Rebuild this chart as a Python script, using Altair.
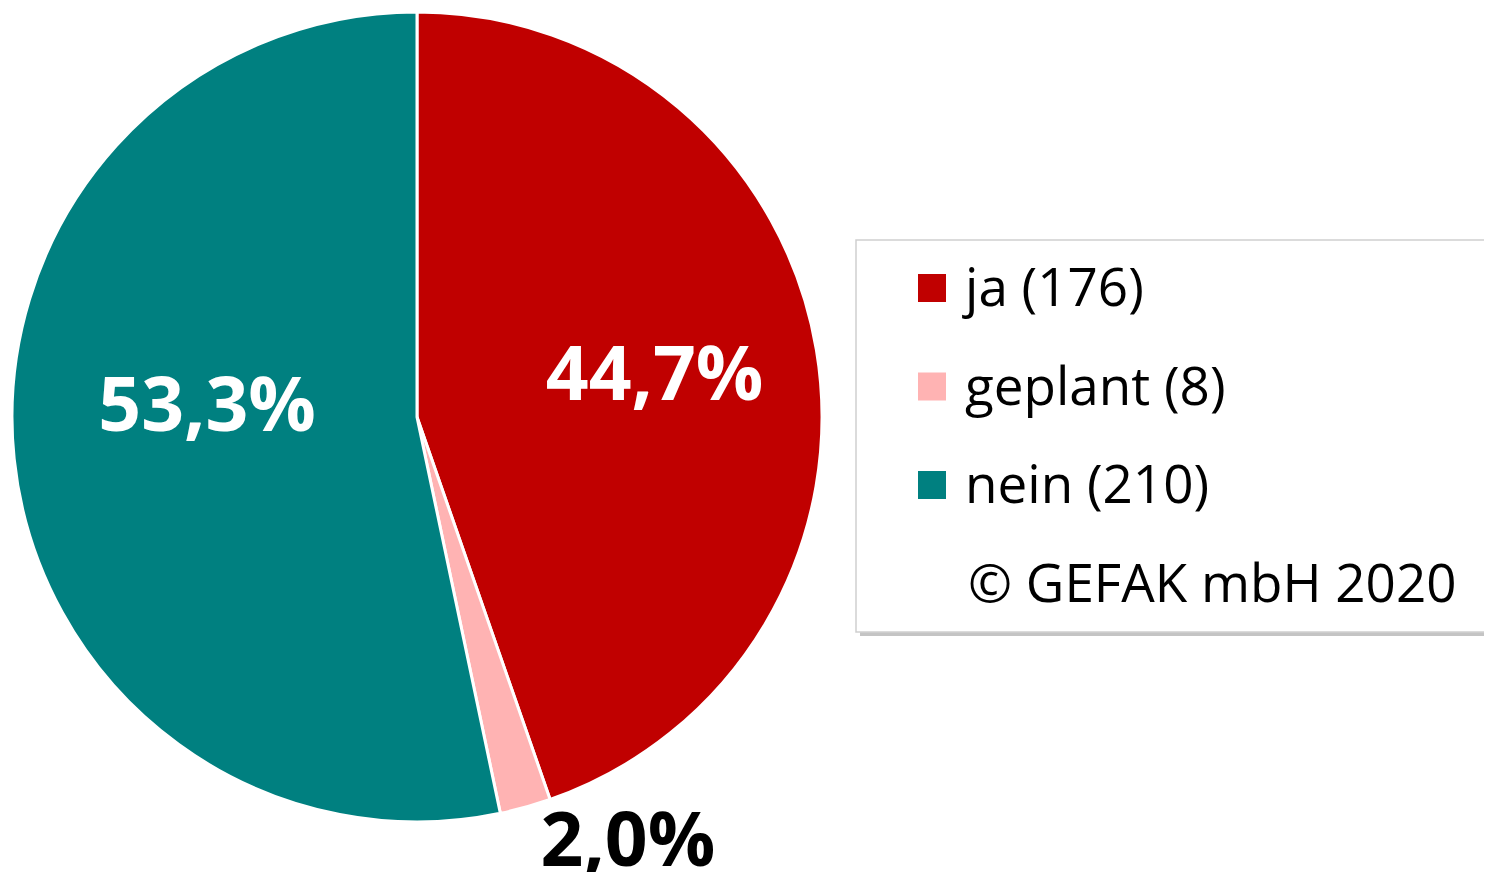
import altair as alt
import pandas as pd

categories = ["ja", "geplant", "nein"]
counts = [176, 8, 210]
pct_labels = ["44,7%", "2,0%", "53,3%"]
legend_labels = ["ja (176)", "geplant (8)", "nein (210)"]
colors = ["#C00000", "#FFB3B3", "#008080"]
copyright_text = "© GEFAK mbH 2020"

df = pd.DataFrame({
    "cat": categories,
    "value": counts,
    "pct": pct_labels,
    "legend": legend_labels,
    "idx": list(range(len(categories))),
})

W, H = 1476, 864
CX, CY = 409, 409
R = 405
FONT = "Open Sans"

base = alt.Chart(df)
color = alt.Color("cat:N", scale=alt.Scale(domain=categories, range=colors), legend=None)

pie = base.mark_arc(outerRadius=R, stroke="white", strokeWidth=3).encode(
    theta=alt.Theta("value:Q", stack=True),
    color=color,
    order=alt.Order("idx:Q"),
    x=alt.value(CX), y=alt.value(CY),
)

def label_layer(cat, radius, fill, dx=0, dy=0):
    return base.transform_calculate(
        lab=f"datum.cat == '{cat}' ? datum.pct : ''"
    ).mark_text(
        radius=radius, font=FONT, fontSize=75, fontWeight="bold", fill=fill,
        align="center", baseline="middle", dx=dx, dy=dy,
    ).encode(
        theta=alt.Theta("value:Q", stack=True),
        order=alt.Order("idx:Q"),
        text="lab:N",
        x=alt.value(CX), y=alt.value(CY),
    )

lab_ja = label_layer("ja", 241, "white")
lab_nein = label_layer("nein", 211, "white", dy=-31)
lab_geplant = label_layer("geplant", 470, "black", dx=85, dy=-27)

# legend box with shadow
shadow = alt.Chart(pd.DataFrame({"a": [0]})).mark_rect(color="#b5b5b5", opacity=0.8).encode(
    x=alt.value(852), x2=alt.value(1500), y=alt.value(236), y2=alt.value(628)
)
box = alt.Chart(pd.DataFrame({"a": [0]})).mark_rect(
    fill="white", stroke="#cfcfcf", strokeWidth=1.5
).encode(
    x=alt.value(848), x2=alt.value(1500), y=alt.value(232), y2=alt.value(624)
)

leg_y = alt.Y("cat:N", scale=alt.Scale(domain=categories, range=[280, 477], padding=0), axis=None)
leg_sq = base.mark_square(size=784, opacity=1).encode(
    x=alt.value(924), y=leg_y, color=color
)
leg_txt = base.mark_text(
    font=FONT, fontSize=53, align="left", baseline="middle", color="black", dy=2
).encode(
    x=alt.value(957), y=leg_y, text="legend:N"
)
copy_txt = alt.Chart(pd.DataFrame({"t": [copyright_text]})).mark_text(
    font=FONT, fontSize=53, align="left", baseline="middle", color="black", dy=2
).encode(
    x=alt.value(960), y=alt.value(576), text="t:N"
)

chart = alt.layer(
    pie, lab_ja, lab_nein, lab_geplant, shadow, box, leg_sq, leg_txt, copy_txt
).properties(
    width=W, height=H, padding=0, autosize=alt.AutoSizeParams(type="none")
).configure_view(stroke=None)

chart.save("out.html", embed_options={"renderer": "svg", "actions": False})
